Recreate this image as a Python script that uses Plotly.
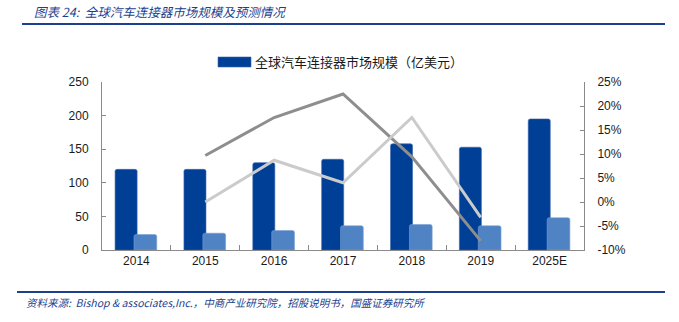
import plotly.graph_objects as go

# Categories and series
years = ["2014", "2015", "2016", "2017", "2018", "2019", "2025E"]
global_market = [120, 120, 130, 135, 158, 153, 195]        # 全球汽车连接器市场规模（亿美元）
second_market = [23, 25, 29, 36, 38, 36, 48]
growth_dark = [None, 9.7, 17.6, 22.5, 9.4, -8.1, None]      # %
growth_light = [None, 0.0, 8.7, 4.0, 17.6, -3.2, None]      # %

left_ticks = [0, 50, 100, 150, 200, 250]
right_ticks = [-10, -5, 0, 5, 10, 15, 20, 25]
right_tick_text = [f"{v}%" for v in right_ticks]
legend_label = "全球汽车连接器市场规模（亿美元）"

W, H = 679, 322
L, R, T, B = 102, 95, 82, 72
plot_w = W - L - R
plot_h = H - T - B


def px_x(x):
    return (x - L) / plot_w


def px_y(y):
    return (H - B - y) / plot_h


DARK_BLUE = "#003f96"
LIGHT_BLUE = "#4f83c4"
HEAD_BLUE = "#1c3f8f"
FONT = "Liberation Sans, Arial, sans-serif"
CJK = "Noto Sans CJK SC"

fig = go.Figure()

fig.add_trace(go.Bar(
    x=years, y=global_market, name=legend_label,
    marker=dict(color=DARK_BLUE, line=dict(color="#3a66b0", width=0.6), cornerradius=2),
    offset=-0.31, width=0.32, showlegend=False,
))
fig.add_trace(go.Bar(
    x=years, y=second_market, name="second",
    marker=dict(color=LIGHT_BLUE, line=dict(color="#7aa0d4", width=0.6), cornerradius=2),
    offset=-0.035, width=0.33, showlegend=False,
))
fig.add_trace(go.Scatter(
    x=years, y=growth_dark, yaxis="y2", mode="lines",
    line=dict(color="#8e8e8e", width=3), showlegend=False, connectgaps=False,
))
fig.add_trace(go.Scatter(
    x=years, y=growth_light, yaxis="y2", mode="lines",
    line=dict(color="#cbcbcb", width=3), showlegend=False, connectgaps=False,
))

axis_font = dict(family=FONT, size=12, color="#1a1a1a")

fig.update_layout(
    width=W, height=H,
    margin=dict(l=L, r=R, t=T, b=B),
    paper_bgcolor="white", plot_bgcolor="white",
    barmode="overlay",
    font=dict(family=CJK, size=12, color="#1a1a1a"),
    xaxis=dict(
        type="category", showgrid=False, showline=True, linecolor="#8a8a8a", linewidth=1,
        ticks="inside", ticklen=5, tickcolor="#8a8a8a", tickson="boundaries",
        tickfont=axis_font, range=[-0.5, 6.5],
    ),
    yaxis=dict(
        range=[0, 250], tickvals=left_ticks, showgrid=False, showline=True,
        linecolor="#8a8a8a", linewidth=1, ticks="inside", ticklen=4, tickcolor="#8a8a8a",
        tickfont=axis_font, zeroline=False, ticklabelstandoff=10,
    ),
    yaxis2=dict(
        overlaying="y", side="right", range=[-10, 25], tickvals=right_ticks,
        ticktext=right_tick_text, showgrid=False, showline=True, linecolor="#8a8a8a",
        linewidth=1, ticks="inside", ticklen=4, tickcolor="#8a8a8a",
        tickfont=axis_font, zeroline=False, ticklabelstandoff=10,
    ),
    showlegend=False,
)

# Legend swatch and label
fig.add_shape(type="rect", xref="paper", yref="paper",
              x0=px_x(218), x1=px_x(251), y0=px_y(67), y1=px_y(57),
              fillcolor=DARK_BLUE, line=dict(color="#3a66b0", width=0.6))
fig.add_annotation(
    xref="paper", yref="paper", x=px_x(253), y=px_y(61.5), xanchor="left", yanchor="middle",
    text=legend_label, showarrow=False,
    font=dict(family=CJK, size=13, color="#1a1a1a"),
)

# Header and footer rules
fig.add_shape(type="line", xref="paper", yref="paper",
              x0=px_x(22), x1=px_x(665), y0=px_y(24), y1=px_y(24),
              line=dict(color=HEAD_BLUE, width=2))
fig.add_shape(type="line", xref="paper", yref="paper",
              x0=px_x(17), x1=px_x(665), y0=px_y(292), y1=px_y(292),
              line=dict(color=HEAD_BLUE, width=2))

fig.add_annotation(
    xref="paper", yref="paper", x=px_x(32), y=px_y(12), xanchor="left", yanchor="middle",
    text="<i>图表 24:  全球汽车连接器市场规模及预测情况</i>", showarrow=False,
    font=dict(family=CJK, size=12.5, color=HEAD_BLUE),
)
fig.add_annotation(
    xref="paper", yref="paper", x=px_x(24), y=px_y(302), xanchor="left", yanchor="middle",
    text="<i>资料来源:  Bishop & associates,Inc.，中商产业研究院，招股说明书，国盛证券研究所</i>",
    showarrow=False, font=dict(family=CJK, size=10.5, color=HEAD_BLUE),
)

fig.write_html("out.html")
